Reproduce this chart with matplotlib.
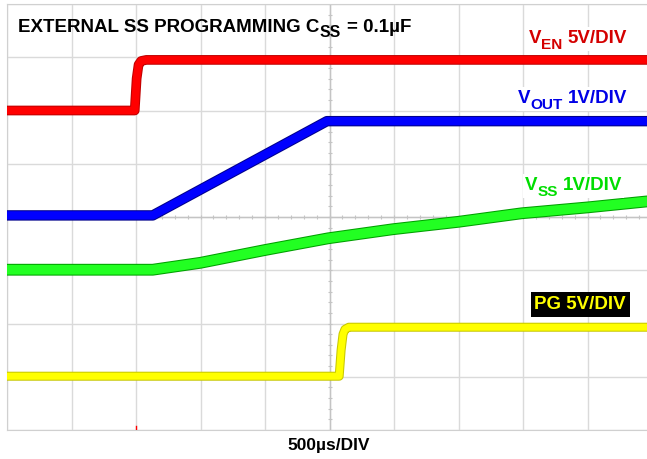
import matplotlib.pyplot as plt
import matplotlib.patheffects as pe
from matplotlib.patches import Rectangle
import numpy as np

plt.rcParams['font.family'] = ['Liberation Sans', 'DejaVu Sans']

# scope settings: 0.5 ms/div, 10 x 8 divisions
ms_per_div = 0.5

# channel traces (time in ms, volts)
t_en = [0, 0.99, 1.005, 1.02, 1.04, 1.08, 5.0]
v_en = [0, 0, 3.0, 4.3, 4.65, 4.75, 4.75]

t_out = [0, 1.13, 2.48, 5.0]
v_out = [0.03, 0.03, 1.8, 1.8]

t_ss = [0, 1.13, 1.50, 2.0, 2.49, 2.99, 3.50, 3.99, 4.50, 4.95, 5.0]
v_ss = [0.01, 0.01, 0.14, 0.38, 0.60, 0.77, 0.91, 1.07, 1.18, 1.29, 1.30]

t_pg = [0, 2.575, 2.59, 2.605, 2.62, 2.65, 5.0]
v_pg = [0.05, 0.05, 2.5, 4.0, 4.45, 4.65, 4.65]

# channel (volts/div, ground position in divisions, colours, width)
channels = [
    (t_en, v_en, 5.0, 6.0, '#ff0000', '#c00000', 5.5),
    (t_out, v_out, 1.0, 4.0, '#0000ff', '#00008c', 6.0),
    (t_ss, v_ss, 1.0, 3.0, '#22ff22', '#00a000', 7.0),
    (t_pg, v_pg, 5.0, 1.0, '#ffff00', '#c8c800', 5.0),
]

W, H = 647, 459
fig = plt.figure(figsize=(W / 100, H / 100), dpi=100)
ax = fig.add_axes([7 / W, (H - 430) / H, 645 / W, 426 / H])
ax.set_xlim(0, 10 * ms_per_div)
ax.set_ylim(0, 8)

# graticule
for i in range(11):
    ax.axvline(i * ms_per_div, color='#dadada', lw=1, zorder=0)
for j in range(9):
    ax.axhline(j, color='#dadada', lw=1, zorder=0)
ax.axvline(5 * ms_per_div, color='#c4c4c4', lw=1, zorder=0)
ax.axhline(4, color='#c4c4c4', lw=1, zorder=0)
mx = np.arange(0, 10.01, 0.2) * ms_per_div
my = np.arange(0, 8.01, 0.2)
ax.scatter(mx, np.full(len(mx), 4), marker='|', s=12, color='#c4c4c4', lw=0.8, zorder=0)
ax.scatter(np.full(len(my), 5 * ms_per_div), my, marker='_', s=12, color='#c4c4c4', lw=0.8, zorder=0)
for s in ax.spines.values():
    s.set_color('#d0d0d0')
ax.set_xticks([])
ax.set_yticks([])

for t, v, vdiv, pos, col, edge, lw in channels:
    y = np.array(v) / vdiv + pos
    ax.plot(t, y, color=col, lw=lw, solid_capstyle='butt', zorder=3,
            path_effects=[pe.Stroke(linewidth=lw + 1.5, foreground=edge), pe.Normal()])

# trigger marker
ax.plot([1.0, 1.0], [0, 0.08], color='#ff0000', lw=1, zorder=4)

renderer = fig.canvas.get_renderer()


def compose(x, y, parts, size, color, ha='left', bg=None, gap=5):
    # parts: (text, scale, drop in px); a leading space means a gap before the piece
    widths = []
    for s, sc, dy in parts:
        t = fig.text(0, 0, s.strip(), fontsize=size * sc, fontweight='bold')
        widths.append(t.get_window_extent(renderer).width)
        t.remove()
    total = sum(widths) + gap * sum(1 for p in parts if p[0].startswith(' '))
    x0 = x - total if ha == 'right' else x
    if bg is not None:
        fig.add_artist(Rectangle(((x0 - 2) / W, 1 - (y + 8) / H), (total + 4) / W, 24 / H,
                                 transform=fig.transFigure, facecolor=bg,
                                 edgecolor='none', zorder=2.5))
    cx = x0
    for (s, sc, dy), w in zip(parts, widths):
        if s.startswith(' '):
            cx += gap
        fig.text(cx / W, 1 - (y + dy) / H, s.strip(), fontsize=size * sc,
                 fontweight='bold', color=color, va='baseline', ha='left', zorder=3)
        cx += w


compose(18, 32, [('EXTERNAL SS PROGRAMMING C', 1, 0), ('SS', 0.85, 5), (' = 0.1µF', 1, 0)],
        13.5, 'black', gap=6)
compose(627, 43, [('V', 1, 0), ('EN', 0.82, 6), (' 5V/DIV', 1, 0)],
        13.5, '#d40000', ha='right', bg='white')
compose(627, 103, [('V', 1, 0), ('OUT', 0.82, 6), (' 1V/DIV', 1, 0)],
        13.5, '#0000e6', ha='right', bg='white')
compose(622, 190, [('V', 1, 0), ('SS', 0.82, 6), (' 1V/DIV', 1, 0)],
        13.5, '#00dd00', ha='right', bg='white')
fig.text(626 / W, 1 - 309 / H, 'PG 5V/DIV', fontsize=13.5, fontweight='bold', color='#ffff00',
         ha='right', va='baseline', bbox=dict(facecolor='black', edgecolor='none', pad=2.5))
fig.text(329 / W, 1 - 450 / H, '500µs/DIV', fontsize=12.5, fontweight='bold', color='black',
         ha='center', va='baseline')

fig.savefig('out.png', dpi=100)
